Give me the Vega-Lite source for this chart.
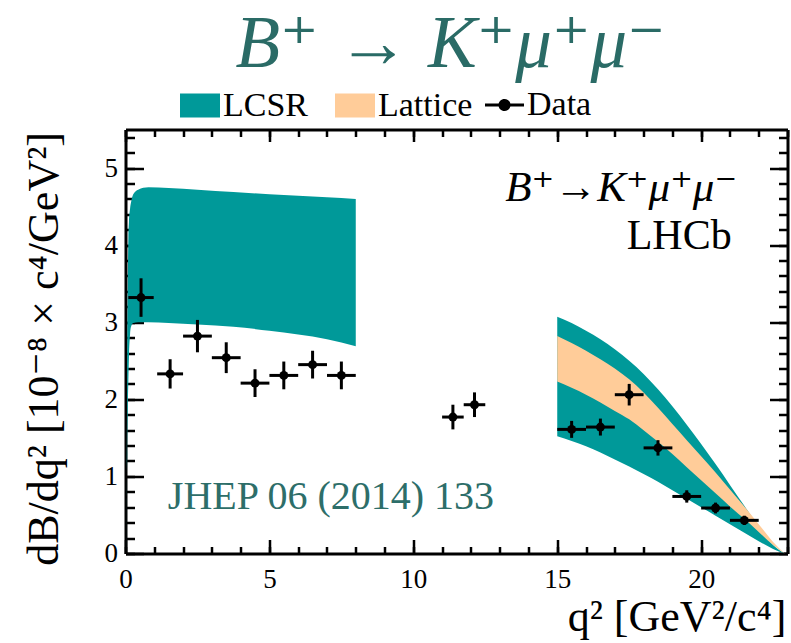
{
  "$schema": "https://vega.github.io/schema/vega-lite/v6.json",
  "width": 662,
  "height": 424,
  "autosize": {"type": "none"},
  "padding": {"left": 125.5, "top": 129.5, "right": 3, "bottom": 90},
  "background": "white",
  "title": {
    "text": "B⁺ → K⁺μ⁺μ⁻",
    "font": "Liberation Serif, DejaVu Serif",
    "fontStyle": "italic",
    "fontWeight": "normal",
    "fontSize": 73,
    "color": "#2a6b66",
    "anchor": "middle",
    "frame": "group",
    "baseline": "alphabetic",
    "offset": 18,
    "dx": -6,
    "dy": 72
  },
  "datasets": {
    "bands": [
      {"q2": 0.045, "lo": 0.0, "hi": 0.0, "model": "LCSR", "seg": "low"},
      {"q2": 0.05, "lo": 0.7, "hi": 1.1, "model": "LCSR", "seg": "low"},
      {"q2": 0.06, "lo": 1.3, "hi": 2.3, "model": "LCSR", "seg": "low"},
      {"q2": 0.08, "lo": 1.9, "hi": 3.5, "model": "LCSR", "seg": "low"},
      {"q2": 0.1, "lo": 2.25, "hi": 4.1, "model": "LCSR", "seg": "low"},
      {"q2": 0.12, "lo": 2.55, "hi": 4.3, "model": "LCSR", "seg": "low"},
      {"q2": 0.16, "lo": 2.85, "hi": 4.48, "model": "LCSR", "seg": "low"},
      {"q2": 0.2, "lo": 2.95, "hi": 4.57, "model": "LCSR", "seg": "low"},
      {"q2": 0.27, "lo": 2.99, "hi": 4.66, "model": "LCSR", "seg": "low"},
      {"q2": 0.44, "lo": 3.0, "hi": 4.72, "model": "LCSR", "seg": "low"},
      {"q2": 0.8, "lo": 3.0, "hi": 4.75, "model": "LCSR", "seg": "low"},
      {"q2": 1.5, "lo": 2.99, "hi": 4.74, "model": "LCSR", "seg": "low"},
      {"q2": 2.5, "lo": 2.97, "hi": 4.72, "model": "LCSR", "seg": "low"},
      {"q2": 3.75, "lo": 2.94, "hi": 4.69, "model": "LCSR", "seg": "low"},
      {"q2": 5.0, "lo": 2.89, "hi": 4.66, "model": "LCSR", "seg": "low"},
      {"q2": 6.0, "lo": 2.84, "hi": 4.64, "model": "LCSR", "seg": "low"},
      {"q2": 7.0, "lo": 2.78, "hi": 4.62, "model": "LCSR", "seg": "low"},
      {"q2": 8.0, "lo": 2.69, "hi": 4.6, "model": "LCSR", "seg": "low"},
      {"q2": 15.0, "lo": 1.52, "hi": 3.07, "model": "LCSR", "seg": "high"},
      {"q2": 15.5, "lo": 1.46, "hi": 2.99, "model": "LCSR", "seg": "high"},
      {"q2": 16.0, "lo": 1.39, "hi": 2.89, "model": "LCSR", "seg": "high"},
      {"q2": 16.5, "lo": 1.31, "hi": 2.78, "model": "LCSR", "seg": "high"},
      {"q2": 17.0, "lo": 1.22, "hi": 2.65, "model": "LCSR", "seg": "high"},
      {"q2": 17.5, "lo": 1.13, "hi": 2.5, "model": "LCSR", "seg": "high"},
      {"q2": 18.0, "lo": 1.03, "hi": 2.33, "model": "LCSR", "seg": "high"},
      {"q2": 18.5, "lo": 0.93, "hi": 2.13, "model": "LCSR", "seg": "high"},
      {"q2": 19.0, "lo": 0.82, "hi": 1.91, "model": "LCSR", "seg": "high"},
      {"q2": 19.5, "lo": 0.71, "hi": 1.67, "model": "LCSR", "seg": "high"},
      {"q2": 20.0, "lo": 0.6, "hi": 1.42, "model": "LCSR", "seg": "high"},
      {"q2": 20.5, "lo": 0.49, "hi": 1.16, "model": "LCSR", "seg": "high"},
      {"q2": 21.0, "lo": 0.38, "hi": 0.89, "model": "LCSR", "seg": "high"},
      {"q2": 21.5, "lo": 0.27, "hi": 0.62, "model": "LCSR", "seg": "high"},
      {"q2": 22.0, "lo": 0.16, "hi": 0.35, "model": "LCSR", "seg": "high"},
      {"q2": 22.5, "lo": 0.06, "hi": 0.11, "model": "LCSR", "seg": "high"},
      {"q2": 22.9, "lo": 0.0, "hi": 0.0, "model": "LCSR", "seg": "high"},
      {"q2": 15.0, "lo": 2.23, "hi": 2.82, "model": "Lattice", "seg": "lat"},
      {"q2": 15.5, "lo": 2.15, "hi": 2.73, "model": "Lattice", "seg": "lat"},
      {"q2": 16.0, "lo": 2.06, "hi": 2.63, "model": "Lattice", "seg": "lat"},
      {"q2": 16.5, "lo": 1.96, "hi": 2.52, "model": "Lattice", "seg": "lat"},
      {"q2": 17.0, "lo": 1.85, "hi": 2.4, "model": "Lattice", "seg": "lat"},
      {"q2": 17.5, "lo": 1.74, "hi": 2.26, "model": "Lattice", "seg": "lat"},
      {"q2": 18.0, "lo": 1.6, "hi": 2.09, "model": "Lattice", "seg": "lat"},
      {"q2": 18.5, "lo": 1.45, "hi": 1.89, "model": "Lattice", "seg": "lat"},
      {"q2": 19.0, "lo": 1.29, "hi": 1.68, "model": "Lattice", "seg": "lat"},
      {"q2": 19.5, "lo": 1.12, "hi": 1.47, "model": "Lattice", "seg": "lat"},
      {"q2": 20.0, "lo": 0.95, "hi": 1.26, "model": "Lattice", "seg": "lat"},
      {"q2": 20.5, "lo": 0.78, "hi": 1.05, "model": "Lattice", "seg": "lat"},
      {"q2": 21.0, "lo": 0.61, "hi": 0.83, "model": "Lattice", "seg": "lat"},
      {"q2": 21.5, "lo": 0.45, "hi": 0.61, "model": "Lattice", "seg": "lat"},
      {"q2": 22.0, "lo": 0.28, "hi": 0.38, "model": "Lattice", "seg": "lat"},
      {"q2": 22.5, "lo": 0.11, "hi": 0.15, "model": "Lattice", "seg": "lat"},
      {"q2": 22.9, "lo": 0.0, "hi": 0.0, "model": "Lattice", "seg": "lat"}
    ],
    "points": [
      {"q2": 0.54, "qlo": 0.1, "qhi": 0.98, "val": 3.32, "ylo": 3.07, "yhi": 3.57},
      {"q2": 1.55, "qlo": 1.1, "qhi": 2.0, "val": 2.33, "ylo": 2.14, "yhi": 2.52},
      {"q2": 2.5, "qlo": 2.0, "qhi": 3.0, "val": 2.82, "ylo": 2.61, "yhi": 3.03},
      {"q2": 3.5, "qlo": 3.0, "qhi": 4.0, "val": 2.54, "ylo": 2.34, "yhi": 2.74},
      {"q2": 4.5, "qlo": 4.0, "qhi": 5.0, "val": 2.21, "ylo": 2.03, "yhi": 2.39},
      {"q2": 5.5, "qlo": 5.0, "qhi": 6.0, "val": 2.31, "ylo": 2.13, "yhi": 2.49},
      {"q2": 6.5, "qlo": 6.0, "qhi": 7.0, "val": 2.45, "ylo": 2.27, "yhi": 2.63},
      {"q2": 7.5, "qlo": 7.0, "qhi": 8.0, "val": 2.31, "ylo": 2.13, "yhi": 2.49},
      {"q2": 11.375, "qlo": 11.0, "qhi": 11.75, "val": 1.77, "ylo": 1.61, "yhi": 1.93},
      {"q2": 12.125, "qlo": 11.75, "qhi": 12.5, "val": 1.93, "ylo": 1.77, "yhi": 2.09},
      {"q2": 15.5, "qlo": 15.0, "qhi": 16.0, "val": 1.61, "ylo": 1.5, "yhi": 1.72},
      {"q2": 16.5, "qlo": 16.0, "qhi": 17.0, "val": 1.64, "ylo": 1.53, "yhi": 1.75},
      {"q2": 17.5, "qlo": 17.0, "qhi": 18.0, "val": 2.06, "ylo": 1.92, "yhi": 2.2},
      {"q2": 18.5, "qlo": 18.0, "qhi": 19.0, "val": 1.37, "ylo": 1.27, "yhi": 1.47},
      {"q2": 19.5, "qlo": 19.0, "qhi": 20.0, "val": 0.74, "ylo": 0.66, "yhi": 0.82},
      {"q2": 20.5, "qlo": 20.0, "qhi": 21.0, "val": 0.59, "ylo": 0.52, "yhi": 0.66},
      {"q2": 21.5, "qlo": 21.0, "qhi": 22.0, "val": 0.43, "ylo": 0.37, "yhi": 0.49}
    ]
  },
  "layer": [
    {
      "data": {"name": "bands"},
      "transform": [{"filter": "datum.model === 'LCSR'"}],
      "mark": {"type": "area", "opacity": 1, "interpolate": "monotone"},
      "encoding": {
        "x": {
          "field": "q2", "type": "quantitative",
          "scale": {"domain": [0, 23], "nice": false, "zero": false},
          "axis": {
            "orient": "bottom", "values": [0, 5, 10, 15, 20],
            "tickSize": -14, "labelPadding": 27,
            "domain": true,
            "title": "q² [GeV²/c⁴]",
            "titleX": 660.5, "titleY": 77, "titleAlign": "right", "titleBaseline": "alphabetic", "titleAngle": 0
          }
        },
        "y": {
          "field": "lo", "type": "quantitative",
          "scale": {"domain": [0, 5.5], "nice": false, "zero": false},
          "axis": {
            "orient": "left", "values": [0, 1, 2, 3, 4, 5],
            "tickSize": -18, "labelPadding": 26,
            "domain": true,
            "title": "dB/dq² [10⁻⁸ × c⁴/GeV²]",
            "titleX": -68.5, "titleY": 2, "titleAlign": "right", "titleBaseline": "alphabetic", "titleAngle": -90
          }
        },
        "y2": {"field": "hi"},
        "detail": {"field": "seg"},
        "color": {
          "field": "model", "type": "nominal",
          "scale": {"domain": ["LCSR", "Lattice"], "range": ["#009999", "#ffcc99"]},
          "legend": {
            "orient": "none", "legendX": 54.5, "legendY": -44,
            "direction": "horizontal", "columns": 2, "title": null,
            "symbolType": "M-1,-0.6H1V0.6H-1Z", "symbolSize": 1600,
            "symbolStrokeWidth": 0, "symbolOpacity": 1,
            "labelFont": "Liberation Serif", "labelFontSize": 34, "labelColor": "black",
            "labelOffset": 3, "columnPadding": 26, "padding": 0
          }
        }
      }
    },
    {
      "data": {"name": "bands"},
      "transform": [{"filter": "datum.model === 'Lattice'"}],
      "mark": {"type": "area", "opacity": 1, "interpolate": "monotone"},
      "encoding": {
        "x": {
          "field": "q2", "type": "quantitative",
          "axis": {
            "orient": "bottom",
            "values": [0, 1, 2, 3, 4, 5, 6, 7, 8, 9, 10, 11, 12, 13, 14, 15, 16, 17, 18, 19, 20, 21, 22, 23],
            "tickSize": -7, "labels": false, "domain": false, "title": null
          }
        },
        "y": {
          "field": "lo", "type": "quantitative",
          "axis": {
            "orient": "left",
            "values": [0, 0.2, 0.4, 0.6, 0.8, 1, 1.2, 1.4, 1.6, 1.8, 2, 2.2, 2.4, 2.6, 2.8, 3, 3.2, 3.4, 3.6, 3.8, 4, 4.2, 4.4, 4.6, 4.8, 5, 5.2, 5.4],
            "tickSize": -9, "labels": false, "domain": false, "title": null
          }
        },
        "y2": {"field": "hi"},
        "color": {"field": "model", "type": "nominal"}
      }
    },
    {
      "data": {"name": "points"},
      "mark": {"type": "rule", "color": "black", "strokeWidth": 3},
      "encoding": {
        "x": {
          "field": "qlo", "type": "quantitative",
          "axis": {
            "orient": "top", "values": [0, 5, 10, 15, 20],
            "tickSize": -12, "labels": false, "domain": true, "title": null
          }
        },
        "x2": {"field": "qhi"},
        "y": {
          "field": "val", "type": "quantitative",
          "axis": {
            "orient": "right", "values": [0, 1, 2, 3, 4, 5],
            "tickSize": -18, "labels": false, "domain": true, "title": null
          }
        }
      }
    },
    {
      "data": {"name": "points"},
      "mark": {"type": "rule", "color": "black", "strokeWidth": 3},
      "encoding": {
        "x": {
          "field": "q2", "type": "quantitative",
          "axis": {
            "orient": "top",
            "values": [0, 1, 2, 3, 4, 5, 6, 7, 8, 9, 10, 11, 12, 13, 14, 15, 16, 17, 18, 19, 20, 21, 22, 23],
            "tickSize": -7, "labels": false, "domain": false, "title": null
          }
        },
        "y": {
          "field": "ylo", "type": "quantitative",
          "axis": {
            "orient": "right",
            "values": [0, 0.2, 0.4, 0.6, 0.8, 1, 1.2, 1.4, 1.6, 1.8, 2, 2.2, 2.4, 2.6, 2.8, 3, 3.2, 3.4, 3.6, 3.8, 4, 4.2, 4.4, 4.6, 4.8, 5, 5.2, 5.4],
            "tickSize": -9, "labels": false, "domain": false, "title": null
          }
        },
        "y2": {"field": "yhi"}
      }
    },
    {
      "data": {"name": "points"},
      "mark": {"type": "point", "filled": true, "color": "black", "size": 80},
      "encoding": {
        "x": {"field": "q2", "type": "quantitative", "axis": null},
        "y": {"field": "val", "type": "quantitative", "axis": null},
        "opacity": {
          "datum": "Data", "type": "ordinal",
          "scale": {"domain": ["Data"], "range": [1]},
          "legend": {
            "orient": "none", "legendX": 359.5, "legendY": -44, "title": null,
            "symbolType": "M-1,-0.075H1V0.075H-1ZM0.31,0A0.31,0.31 0 1 1 -0.31,0A0.31,0.31 0 1 1 0.31,0Z",
            "symbolSize": 1521,
            "symbolFillColor": "black", "symbolStrokeColor": "black", "symbolStrokeWidth": 0,
            "labelFont": "Liberation Serif", "labelFontSize": 34, "labelColor": "black",
            "labelOffset": 3, "padding": 0
          }
        }
      }
    },
    {
      "data": {"values": [{"label": "B⁺→K⁺μ⁺μ⁻"}]},
      "mark": {"type": "text", "font": "Liberation Serif, DejaVu Serif", "fontStyle": "italic", "fontSize": 43, "align": "right", "baseline": "alphabetic", "color": "black"},
      "encoding": {
        "x": {"datum": 21.25, "type": "quantitative", "axis": null},
        "y": {"datum": 4.57, "type": "quantitative", "axis": null},
        "text": {"field": "label"}
      }
    },
    {
      "data": {"values": [{"label": "LHCb"}]},
      "mark": {"type": "text", "font": "Liberation Serif", "fontSize": 42, "align": "right", "baseline": "alphabetic", "color": "black"},
      "encoding": {
        "x": {"datum": 21.06, "type": "quantitative", "axis": null},
        "y": {"datum": 3.95, "type": "quantitative", "axis": null},
        "text": {"field": "label"}
      }
    },
    {
      "data": {"values": [{"label": "JHEP 06 (2014) 133"}]},
      "mark": {"type": "text", "font": "Liberation Serif", "fontSize": 40, "align": "left", "baseline": "alphabetic", "color": "#2d6e69"},
      "encoding": {
        "x": {"datum": 1.47, "type": "quantitative", "axis": null},
        "y": {"datum": 0.58, "type": "quantitative", "axis": null},
        "text": {"field": "label"}
      }
    }
  ],
  "resolve": {"axis": {"x": "independent", "y": "independent"}},
  "config": {
    "view": {"stroke": null},
    "font": "Liberation Serif",
    "axis": {
      "grid": false,
      "zindex": 1,
      "tickColor": "black",
      "tickWidth": 2.5,
      "tickCap": "butt",
      "domainColor": "black",
      "domainWidth": 3,
      "labelFont": "Liberation Serif",
      "labelFontSize": 27,
      "labelColor": "black",
      "labelFlush": false,
      "labelOverlap": false,
      "labelBound": false,
      "titleFont": "Liberation Serif, DejaVu Serif",
      "titleFontSize": 44,
      "titleFontWeight": "normal",
      "titleColor": "black"
    },
    "legend": {
      "labelFont": "Liberation Serif"
    }
  }
}
